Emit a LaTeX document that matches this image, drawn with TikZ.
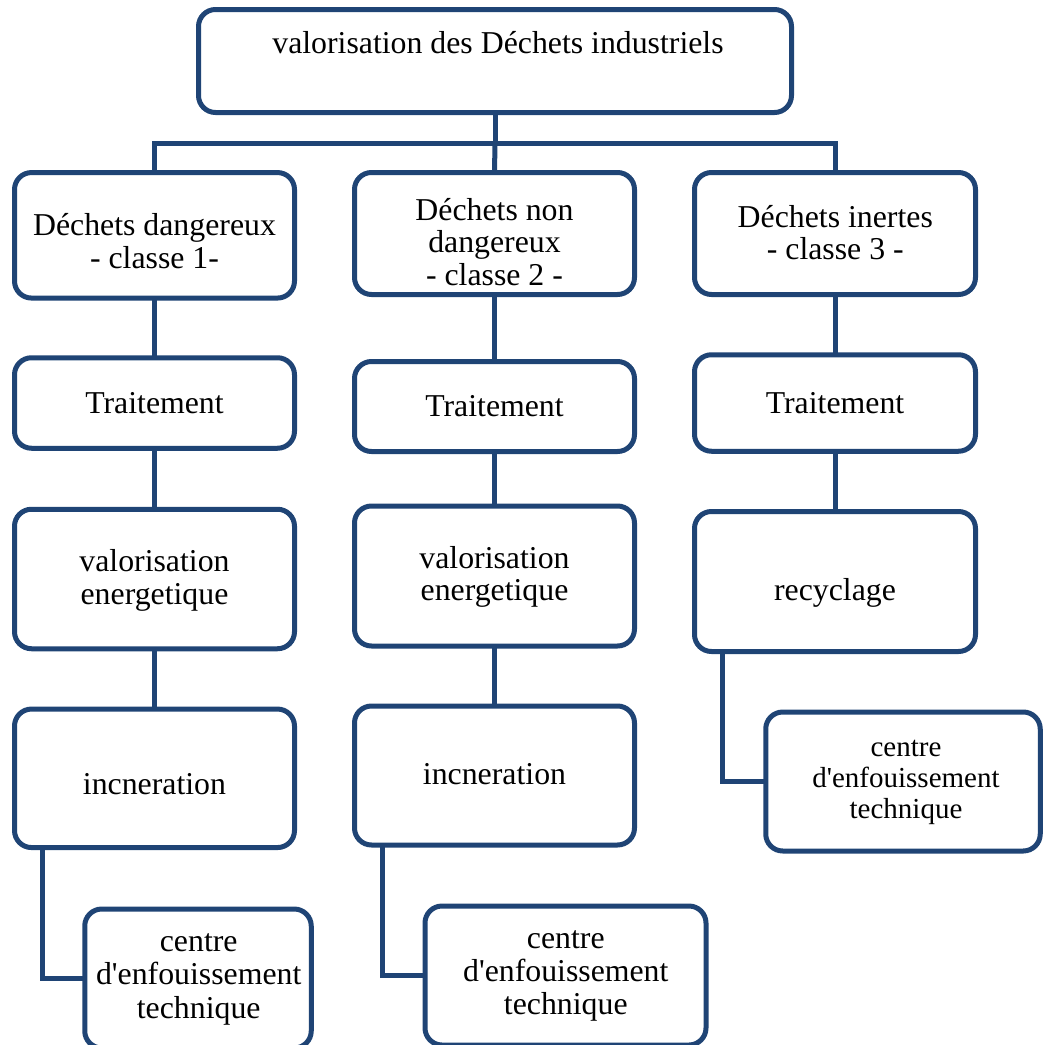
\documentclass[tikz,border=0pt]{standalone}
\usepackage{fontspec}
\setmainfont{Liberation Serif}[Ligatures=TeXOff]
\usetikzlibrary{calc}
\definecolor{edge}{HTML}{1F4475}
\begin{document}
\begin{tikzpicture}[x=1pt,y=-1pt,
  stagebox/.style={draw=edge, line width=5pt, rounded corners=17pt, fill=white,
    inner sep=0pt, outer sep=0pt},
  boxtext/.style={align=center, inner sep=0pt,
    font=\fontsize{31.8}{32.5}\selectfont,
    execute at begin node=\strut, execute at end node=\strut},
  centretext/.style={boxtext, font=\fontsize{31.8}{33.3}\selectfont},
  smalltext/.style={boxtext, font=\fontsize{29}{31}\selectfont},
  link/.style={draw=edge, line width=5pt}]
\useasboundingbox (0,0) rectangle (1043,1045);

% root
\node[stagebox, minimum width=593pt, minimum height=103pt] (root) at (495,61) {};
\node[boxtext] (rootT) at (498,46.8) {valorisation des Déchets industriels};

% first level: waste classes
\node[stagebox, minimum width=280pt, minimum height=125.5pt] (dd) at (154.5,235.3) {};
\node[boxtext] (ddT) at (154.5,246) {Déchets dangereux\\- classe 1-};
\node[stagebox, minimum width=280pt, minimum height=122pt] (dnd) at (494.5,233.5) {};
\node[boxtext] (dndT) at (494.5,246.5) {Déchets non\\dangereux\\- classe 2 -};
\node[stagebox, minimum width=281pt, minimum height=122pt] (di) at (835,233.5) {};
\node[boxtext] (diT) at (835.3,237.5) {Déchets inertes\\- classe 3 -};

% treatment
\node[stagebox, minimum width=280pt, minimum height=90.5pt] (tr1) at (154.5,403) {};
\node[boxtext] (tr1T) at (154.5,407.3) {Traitement};
\node[stagebox, minimum width=280pt, minimum height=90pt] (tr2) at (494.5,406.5) {};
\node[boxtext] (tr2T) at (494.5,410) {Traitement};
\node[stagebox, minimum width=281pt, minimum height=96.5pt] (tr3) at (835,403) {};
\node[boxtext] (tr3T) at (835,407.3) {Traitement};

% recovery
\node[stagebox, minimum width=280pt, minimum height=139.5pt] (ve1) at (154.5,579) {};
\node[boxtext] (ve1T) at (154.5,582) {valorisation\\energetique};
\node[stagebox, minimum width=280pt, minimum height=140pt] (ve2) at (494.5,576) {};
\node[boxtext] (ve2T) at (494.5,578.3) {valorisation\\energetique};
\node[stagebox, minimum width=281pt, minimum height=140pt] (rec) at (835,581.5) {};
\node[boxtext] (recT) at (835,594) {recyclage};

% incineration / landfill
\node[stagebox, minimum width=280pt, minimum height=138.5pt] (inc1) at (154.5,778.3) {};
\node[boxtext] (inc1T) at (154.5,788) {incneration};
\node[stagebox, minimum width=280pt, minimum height=139pt] (inc2) at (494.5,775.5) {};
\node[boxtext] (inc2T) at (494.5,778) {incneration};
\node[stagebox, minimum width=274.5pt, minimum height=139pt] (cet3) at (903,781.5) {};
\node[smalltext] (cet3T) at (906,784) {centre\\d'enfouissement\\technique};

\node[stagebox, minimum width=226.5pt, minimum height=139pt] (cet1) at (198,978.5) {};
\node[centretext] (cet1T) at (198.7,981) {centre\\d'enfouissement\\technique};
\node[stagebox, minimum width=281pt, minimum height=139pt] (cet2) at (565.5,975.5) {};
\node[centretext] (cet2T) at (565.8,977.7) {centre\\d'enfouissement\\technique};

% connectors
\coordinate (bar) at (495,143.5);
\draw[link] (root.south) -- (bar);
\draw[link] (dd.north) -- (dd.north |- bar) -- (di.north |- bar) -- (di.north);
\draw[link] (bar) -- (dnd.north);

\draw[link] (dd.south) -- (tr1.north);
\draw[link] (tr1.south) -- (ve1.north);
\draw[link] (ve1.south) -- (inc1.north);
\draw[link] ([xshift=28pt]inc1.south west) |- (cet1.west);

\draw[link] (dnd.south) -- (tr2.north);
\draw[link] (tr2.south) -- (ve2.north);
\draw[link] (ve2.south) -- (inc2.north);
\draw[link] ([xshift=28pt]inc2.south west) |- (cet2.west);

\draw[link] (di.south) -- (tr3.north);
\draw[link] (tr3.south) -- (rec.north);
\draw[link] ([xshift=28pt]rec.south west) |- (cet3.west);
\end{tikzpicture}
\end{document}
